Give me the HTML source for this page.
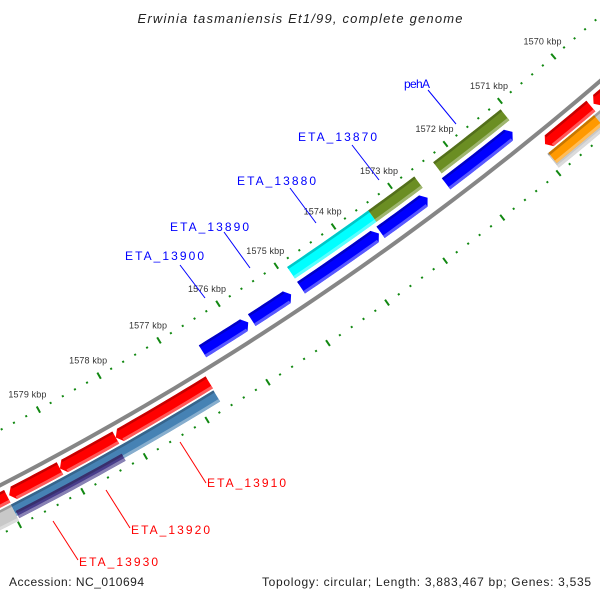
<!DOCTYPE html>
<html><head><meta charset="utf-8"><style>
html,body{margin:0;padding:0;background:#fff;}
svg{display:block;font-family:"Liberation Sans",sans-serif;}
</style></head><body>
<svg id="map" width="600" height="600" viewBox="0 0 600 600" xmlns="http://www.w3.org/2000/svg">
<rect width="600" height="600" fill="#fff"/>
<g id="rings"></g>
<g id="feats"></g>
<g id="labels"></g>
<text x="300" y="23" text-anchor="middle" font-size="13" font-style="italic" fill="#222" textLength="325">Erwinia tasmaniensis Et1/99, complete genome</text>
<text x="9" y="586" font-size="12" fill="#222" textLength="135">Accession: NC_010694</text>
<text x="262" y="586" font-size="12" fill="#222" textLength="329">Topology: circular; Length: 3,883,467 bp; Genes: 3,535</text>
</svg>
<script>
// ---- data ----
const tickKbp = [1568,1569,1570,1571,1572,1573,1574,1575,1576,1577,1578,1579,1580,1581];
const tickLabels = ["1570 kbp","1571 kbp","1572 kbp","1573 kbp","1574 kbp","1575 kbp","1576 kbp","1577 kbp","1578 kbp","1579 kbp"];
const tickLabelKbp = [1570,1571,1572,1573,1574,1575,1576,1577,1578,1579];
const featStart = [1576.55,1575.72,1574.88,1573.50,1572.34, 1574.88,1573.46,1572.30, 1576.70,1578.23,1579.13,1579.97, 1570.05,1568.9, 1568.9,1570.10, 1576.71,1578.27,1579.98];
const featEnd   = [1575.78,1575.05,1573.53,1572.67,1571.14, 1573.46,1572.64,1571.07, 1578.23,1579.13,1579.94,1581.2, 1570.89,1570.0, 1570.95,1570.93, 1579.98,1579.96,1581.2];
const featSlot  = ["f2","f2","f2","f2","f2","f1","f1","f1","r1","r1","r1","r1","r1","r1","r2b","r2","r2","r3","r2b"];
const featHead  = ["s","s","s","s","s","n","n","n","e","e","e","e","e","e","n","n","n","n","n"];
const featColor = ["#0000ff","#0000ff","#0000ff","#0000ff","#0000ff","#00ffff","#6b8e23","#6b8e23","#ff0000","#ff0000","#ff0000","#ff0000","#ff0000","#ff0000","#c8c8c8","#ff9900","#4682b4","#483d8b","#c8c8c8"];
const labelNames = ["pehA","ETA_13870","ETA_13880","ETA_13890","ETA_13900","ETA_13910","ETA_13920","ETA_13930"];
const labelColors = ["#0000ff","#0000ff","#0000ff","#0000ff","#0000ff","#ff0000","#ff0000","#ff0000"];

// ---- geometry ----
const CX=-1414, CY=-2261;
const slotR = {f1:[3047,3061], f2:[3065,3079], r1:[3095,3109], r2:[3111,3124], r2b:[3111,3129], r3:[3119,3127]};
function ang(k){return (49.67+(k-1570)*1.31)*Math.PI/180;}
function pt(k,r){const a=ang(k);return [CX+r*Math.cos(a), CY+r*Math.sin(a)];}
const NS="http://www.w3.org/2000/svg";
function mk(tag,parent){const e=document.createElementNS(NS,tag);parent.appendChild(e);return e;}
function arcPts(a,b,r,n){const p=[];for(let i=0;i<=n;i++){p.push(pt(a+(b-a)*i/n,r));}return p;}
function poly(pts){return pts.map(p=>p[0].toFixed(2)+","+p[1].toFixed(2)).join(" ");}
function shade(hex,f){let n=parseInt(hex.slice(1),16);let r=n>>16,g=(n>>8)&255,b=n&255;
  if(f<0){r*=1+f;g*=1+f;b*=1+f;}else{r+=(255-r)*f;g+=(255-g)*f;b+=(255-b)*f;}
  return "rgb("+Math.round(r)+","+Math.round(g)+","+Math.round(b)+")";}

const rings=document.getElementById('rings');
const bb=mk('polyline',rings);


bb.setAttribute('points',poly(arcPts(1567.5,1582,3089,60)));
bb.setAttribute('fill','none');bb.setAttribute('stroke','#868686');bb.setAttribute('stroke-width','4');
[3040,3133].forEach((R)=>{
  for(let k=tickKbp[0]; k<=tickKbp[tickKbp.length-1]+0.001; k+=0.2){
    const kk=Math.round(k*5)/5;
    const major=Math.abs(kk-Math.round(kk))<0.01;
    const l=mk('line',rings);
    
    
    const h=major?3.5:1;
    const p1=pt(kk,R-h),p2=pt(kk,R+h);
    l.setAttribute('x1',p1[0]);l.setAttribute('y1',p1[1]);l.setAttribute('x2',p2[0]);l.setAttribute('y2',p2[1]);
    l.setAttribute('stroke','#118811');l.setAttribute('stroke-width','2');
  }
});
tickLabels.forEach((t,i)=>{
  const p=pt(tickLabelKbp[i],3040);
  const tx=mk('text',rings);
  
  
  tx.setAttribute('x',(p[0]-11).toFixed(1));tx.setAttribute('y',(p[1]-12).toFixed(1));
  tx.setAttribute('text-anchor','middle');tx.setAttribute('font-size','9');tx.setAttribute('fill','#333');
  tx.setAttribute('textLength','38');
  tx.textContent=t;
});

const feats=document.getElementById('feats');
const H=0.075;
featStart.forEach((s,i)=>{
  const a=Math.min(s,featEnd[i]), b=Math.max(s,featEnd[i]);
  const [r0,r1]=slotR[featSlot[i]]; const rm=(r0+r1)/2;
  const head=featHead[i]; const col=featColor[i];
  let ba=a, bb2=b; let pts;
  if(head==="s"){ba=a+H; pts=[pt(a,rm)].concat(arcPts(ba,b,r0,12),arcPts(b,ba,r1,12));}
  else if(head==="e"){bb2=b-H; pts=arcPts(a,bb2,r0,12).concat([pt(b,rm)],arcPts(bb2,a,r1,12));}
  else {pts=arcPts(a,b,r0,12).concat(arcPts(b,a,r1,12));}
  const g=mk('g',feats);
  
  
  const p=mk('polygon',g);
  
  
  p.setAttribute('points',poly(pts));p.setAttribute('fill',col);
  const top=mk('polygon',g);
  
  
  top.setAttribute('points',poly(arcPts(ba,bb2,r0,12).concat(arcPts(bb2,ba,r0+2.5,12))));
  top.setAttribute('fill',shade(col,-0.22));
  const bot=mk('polygon',g);
  
  
  bot.setAttribute('points',poly(arcPts(ba,bb2,r1-3,12).concat(arcPts(bb2,ba,r1,12))));
  bot.setAttribute('fill',shade(col,0.35));
});

const labelText=[[404,88],[298,141],[237,185],[170,231],[125,260],[207,487],[131,534],[79,566]];
const labelLine=[[428,90,456,124],[352,145,379,180],[290,188,316,223],[224,232,250,268],[180,265,205,298],[180,442,206,483],[106,490,130,528],[53,521,78,560]];
const labG=document.getElementById('labels');
labelNames.forEach((n,i)=>{
  const ln=mk('line',labG);
  
  
  const L=labelLine[i];
  ln.setAttribute('x1',L[0]);ln.setAttribute('y1',L[1]);ln.setAttribute('x2',L[2]);ln.setAttribute('y2',L[3]);
  ln.setAttribute('stroke',labelColors[i]);ln.setAttribute('stroke-width','1');
  const t=mk('text',labG);
  
  
  t.setAttribute('x',labelText[i][0]);t.setAttribute('y',labelText[i][1]);
  t.setAttribute('font-size','12');t.setAttribute('fill',labelColors[i]);
  t.setAttribute('textLength',n.length>4?'79':'26');
  t.textContent=n;
});
</script>
</body></html>
